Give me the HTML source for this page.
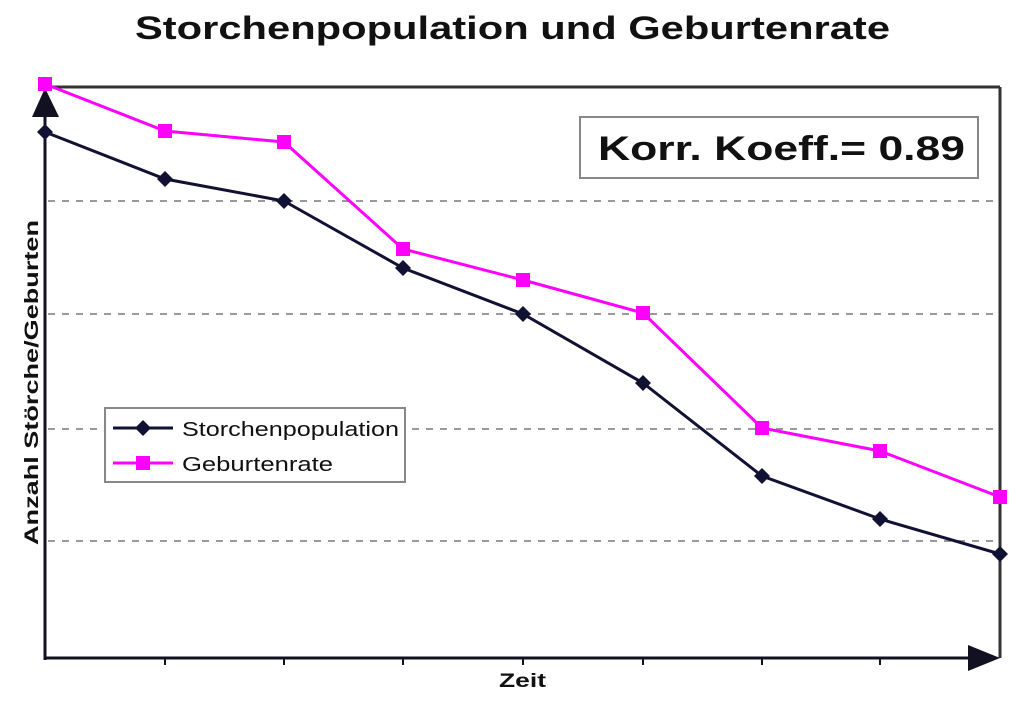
<!DOCTYPE html>
<html><head><meta charset="utf-8"><style>
html,body{margin:0;padding:0;background:#fff;}
svg{display:block;font-family:"Liberation Sans","DejaVu Sans",sans-serif;}
</style></head><body>
<svg width="1021" height="706" viewBox="0 0 1021 706" xmlns="http://www.w3.org/2000/svg">
<rect width="1021" height="706" fill="#fff"/>
<text x="135" y="39" textLength="755" lengthAdjust="spacingAndGlyphs" font-size="32" font-weight="bold" fill="#111">Storchenpopulation und Geburtenrate</text>
<g stroke="#999" stroke-width="2" stroke-dasharray="7,7">
<line x1="48" y1="201" x2="1000" y2="201"/>
<line x1="48" y1="314" x2="1000" y2="314"/>
<line x1="48" y1="429" x2="1000" y2="429"/>
<line x1="48" y1="541" x2="1000" y2="541"/>
</g>
<line x1="45" y1="87" x2="1000" y2="87" stroke="#333" stroke-width="3"/>
<line x1="1000" y1="87" x2="1000" y2="658" stroke="#333" stroke-width="3"/>
<line x1="45" y1="100" x2="45" y2="660" stroke="#111122" stroke-width="3"/>
<line x1="45" y1="658" x2="975" y2="658" stroke="#111122" stroke-width="3"/>
<polygon points="45,88 32,117 59,117" fill="#111122"/>
<polygon points="1000,658 968,645 968,671" fill="#111122"/>
<g stroke="#111122" stroke-width="2">
<line x1="165" y1="658" x2="165" y2="665"/><line x1="284" y1="658" x2="284" y2="665"/>
<line x1="403" y1="658" x2="403" y2="665"/><line x1="523" y1="658" x2="523" y2="665"/>
<line x1="643" y1="658" x2="643" y2="665"/><line x1="762" y1="658" x2="762" y2="665"/>
<line x1="880" y1="658" x2="880" y2="665"/>
</g>
<polyline fill="none" stroke="#ff00ff" stroke-width="3" points="45,84 165,131 284,142 403,249 523,280 643,313 762,428 880,451 1000,497"/>
<g fill="#ff00ff">
<rect x="38" y="77" width="14" height="14"/><rect x="158" y="124" width="14" height="14"/><rect x="277" y="135" width="14" height="14"/>
<rect x="396" y="242" width="14" height="14"/><rect x="516" y="273" width="14" height="14"/><rect x="636" y="306" width="14" height="14"/>
<rect x="755" y="421" width="14" height="14"/><rect x="873" y="444" width="14" height="14"/><rect x="993" y="490" width="14" height="14"/>
</g>
<polyline fill="none" stroke="#111133" stroke-width="3" points="45,132 165,179 284,201 403,268 523,314 643,383 762,476 880,519 1000,554"/>
<g fill="#111133">
<polygon points="45,124 53,132 45,140 37,132"/><polygon points="165,171 173,179 165,187 157,179"/><polygon points="284,193 292,201 284,209 276,201"/>
<polygon points="403,260 411,268 403,276 395,268"/><polygon points="523,306 531,314 523,322 515,314"/><polygon points="643,375 651,383 643,391 635,383"/>
<polygon points="762,468 770,476 762,484 754,476"/><polygon points="880,511 888,519 880,527 872,519"/><polygon points="1000,546 1008,554 1000,562 992,554"/>
</g>
<rect x="580" y="117" width="398" height="61" fill="#fff" stroke="#888" stroke-width="2"/>
<text x="598" y="160" textLength="367" lengthAdjust="spacingAndGlyphs" font-size="34" font-weight="bold" fill="#111">Korr. Koeff.= 0.89</text>
<rect x="105" y="408" width="300" height="74" fill="#fff" stroke="#888" stroke-width="2"/>
<line x1="113" y1="428" x2="173" y2="428" stroke="#111133" stroke-width="3"/>
<polygon points="143,420 151,428 143,436 135,428" fill="#111133"/>
<text x="182" y="436" textLength="217" lengthAdjust="spacingAndGlyphs" font-size="20" fill="#111">Storchenpopulation</text>
<line x1="113" y1="463" x2="173" y2="463" stroke="#ff00ff" stroke-width="3"/>
<rect x="136" y="456" width="14" height="14" fill="#ff00ff"/>
<text x="182" y="471" textLength="151" lengthAdjust="spacingAndGlyphs" font-size="20" fill="#111">Geburtenrate</text>
<text x="499" y="687" textLength="47" lengthAdjust="spacingAndGlyphs" font-size="19" font-weight="bold" fill="#111">Zeit</text>
<text transform="translate(38,545) rotate(-90)" textLength="325" lengthAdjust="spacingAndGlyphs" font-size="19" font-weight="bold" fill="#111">Anzahl Störche/Geburten</text>
</svg>
</body></html>
